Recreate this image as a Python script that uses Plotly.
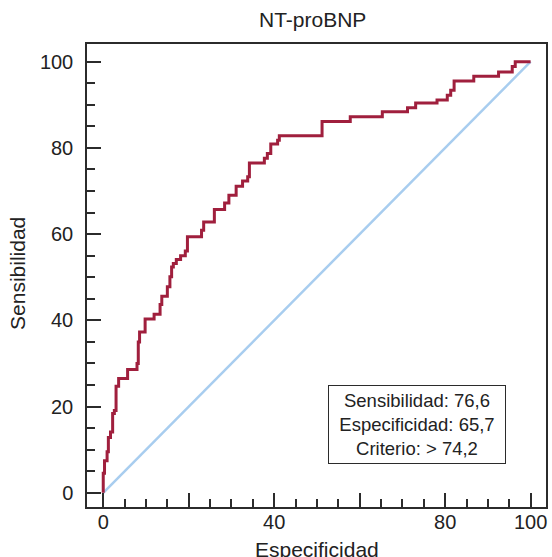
import plotly.graph_objects as go

# ROC curve vertices (1 - specificity %, sensitivity %), step shape
roc_x = [0, 0, 0.3, 0.9, 1.2, 1.7, 2.2, 2.6, 3.0, 3.6, 5.7, 7.9, 8.2, 8.5, 9.8,
         11.9, 13.3, 13.7, 15.0, 15.6, 16.0, 16.4, 17.1, 18.1, 19.2, 19.7, 23.0,
         23.5, 26.0, 28.4, 29.4, 31.1, 32.6, 33.8, 34.2, 37.7, 38.4, 39.2, 40.8,
         41.2, 51.2, 57.8, 65.3, 71.2, 73.1, 78.1, 80.5, 81.3, 82.1, 86.7, 92.5,
         95.7, 96.4, 100]
roc_y = [0, 4.5, 7.4, 9.5, 12.8, 14.1, 18.4, 19.1, 24.7, 26.5, 28.6, 30.0, 35.0,
         37.3, 40.3, 41.4, 43.7, 45.6, 47.8, 50.1, 52.4, 53.2, 54.1, 55.0, 56.1,
         59.4, 60.9, 62.8, 65.7, 67.2, 69.0, 71.1, 72.3, 73.3, 76.5, 77.6, 78.7,
         80.9, 81.8, 82.8, 86.1, 87.2, 88.4, 89.3, 90.4, 91.1, 92.2, 93.4, 95.5,
         96.6, 97.6, 98.9, 100, 100]

diag_x = [0, 100]
diag_y = [0, 100]

tick_vals = [0, 20, 40, 60, 80, 100]
x_tick_text = ["0", "", "40", "", "80", "100"]
y_tick_text = ["0", "20", "40", "60", "80", "100"]

stats_lines = ["Sensibilidad: 76,6", "Especificidad: 65,7", "Criterio: > 74,2"]
stats_pos = (73.5, 15.8)

FONT = "Liberation Sans, Arial, Helvetica, sans-serif"
AX = "#2b2b2b"

fig = go.Figure()
fig.add_trace(go.Scatter(x=diag_x, y=diag_y, mode="lines",
                         line=dict(color="#a8cdef", width=2.5),
                         hoverinfo="skip", showlegend=False))
fig.add_trace(go.Scatter(x=roc_x, y=roc_y, mode="lines",
                         line=dict(color="#a01f3d", width=3, shape="hv"),
                         showlegend=False))

axis_common = dict(
    showgrid=False, zeroline=False, showline=True, mirror=True,
    linecolor=AX, linewidth=1.5,
    ticks="inside", ticklen=14, tickwidth=1.5, tickcolor=AX,
    tickfont=dict(family=FONT, size=20, color="#222"),
    minor=dict(dtick=5, tick0=0, ticks="inside", ticklen=8,
               tickwidth=1.5, tickcolor=AX),
    tickmode="array", tickvals=tick_vals,
)

fig.update_xaxes(range=[-3.8, 103.6], ticktext=x_tick_text,
                 ticklabelstandoff=-4, **axis_common)
fig.update_yaxes(range=[-3.3, 104.1], ticktext=y_tick_text,
                 ticklabelstandoff=8, **axis_common)

fig.add_annotation(x=stats_pos[0], y=stats_pos[1], xref="x", yref="y",
                   text="<br>".join(stats_lines), showarrow=False,
                   font=dict(family=FONT, size=18.5, color="#222"),
                   align="center", bordercolor=AX, borderwidth=1,
                   borderpad=4, bgcolor="white", width=168)

fig.add_annotation(x=0.491, y=1.053, xref="paper", yref="paper",
                   text="NT-proBNP", showarrow=False, xanchor="center",
                   yanchor="middle",
                   font=dict(family=FONT, size=21, color="#222"))
fig.add_annotation(x=0.500, y=-0.092, xref="paper", yref="paper",
                   text="Especificidad", showarrow=False, xanchor="center",
                   yanchor="middle",
                   font=dict(family=FONT, size=21, color="#222"))
fig.add_annotation(x=-0.153, y=0.505, xref="paper", yref="paper",
                   text="Sensibilidad", showarrow=False, xanchor="center",
                   yanchor="middle", textangle=-90,
                   font=dict(family=FONT, size=21, color="#222"))

fig.update_layout(width=552, height=557,
                  margin=dict(l=87, r=4, t=44, b=50, pad=0),
                  plot_bgcolor="white", paper_bgcolor="white",
                  showlegend=False)

fig.write_html("out.html",
               config={"displayModeBar": False},
               post_script="document.body.style.margin='0';"
                           "document.documentElement.style.overflow='hidden';")
